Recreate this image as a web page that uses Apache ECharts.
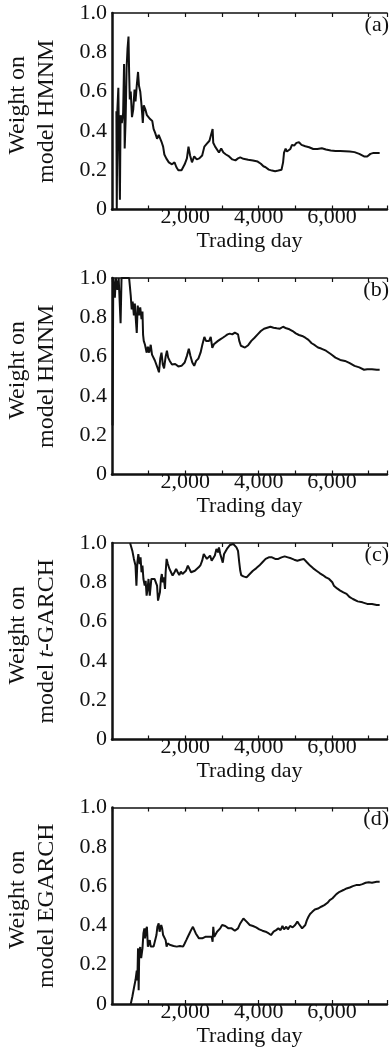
<!DOCTYPE html>
<html>
<head>
<meta charset="utf-8">
<script src="https://cdn.jsdelivr.net/npm/echarts@6/dist/echarts.min.js"></script>
<style>
  html, body { margin: 0; padding: 0; background: #fff; }
  #chart { width: 390px; height: 1058px; }
</style>
</head>
<body>
<div id="chart"></div>
<script>
// Weight series per panel: [trading day, weight]
const weightHmnmA = [
  [120,0.50],[130,0.00],[147,0.51],[173,0.62],[190,0.36],[216,0.05],[234,0.48],[268,0.44],[303,0.49],
  [329,0.74],[346,0.31],[372,0.46],[398,0.72],[424,0.82],[450,0.88],[467,0.70],[485,0.56],[511,0.60],
  [545,0.47],[580,0.51],[615,0.61],[641,0.55],[675,0.63],[710,0.70],[736,0.63],[771,0.60],[796,0.55],
  [822,0.49],[840,0.44],[866,0.53],[909,0.51],[952,0.48],[996,0.49],[1039,0.46],[1099,0.45],[1134,0.41],
  [1177,0.39],[1229,0.36],[1273,0.38],[1316,0.37],[1359,0.34],[1394,0.32],[1428,0.28],[1480,0.26],
  [1550,0.24],[1636,0.23],[1705,0.24],[1757,0.215],[1809,0.20],[1896,0.20],[1982,0.23],[2043,0.26],
  [2086,0.32],[2130,0.275],[2181,0.24],[2242,0.27],[2311,0.255],[2381,0.26],[2459,0.275],[2519,0.32],
  [2588,0.335],[2658,0.35],[2710,0.34],[2744,0.41],[2761,0.34],[2813,0.32],[2865,0.31],[2917,0.29],
  [2978,0.31],[3038,0.29],[3108,0.28],[3194,0.27],[3281,0.255],[3367,0.25],[3437,0.26],[3497,0.265],
  [3584,0.258],[3714,0.253],[3844,0.249],[3973,0.244],[4060,0.233],[4129,0.22],[4190,0.215],[4276,0.203],
  [4363,0.198],[4450,0.195],[4536,0.198],[4623,0.202],[4666,0.24],[4692,0.29],[4735,0.31],[4770,0.295],
  [4822,0.30],[4865,0.308],[4908,0.329],[4969,0.325],[5030,0.339],[5099,0.342],[5168,0.329],[5272,0.322],
  [5376,0.317],[5488,0.308],[5601,0.308],[5722,0.312],[5835,0.305],[5965,0.30],[6094,0.298],[6224,0.298],
  [6354,0.297],[6484,0.295],[6614,0.292],[6744,0.283],[6874,0.27],[6960,0.27],[7047,0.283],[7133,0.288],
  [7220,0.288],[7300,0.288]
];

const weightHmnmB = [
  [15,0.25],[35,1.0],[78,0.90],[104,1.0],[147,0.94],[182,1.0],[234,0.77],[260,1.0],[467,1.0],
  [511,0.91],[537,0.84],[563,0.88],[597,0.81],[623,0.87],[649,0.79],[675,0.72],[701,0.86],[736,0.81],
  [770,0.85],[805,0.79],[831,0.83],[848,0.71],[866,0.68],[900,0.66],[944,0.62],[978,0.65],[1013,0.62],
  [1056,0.66],[1091,0.61],[1134,0.62],[1169,0.58],[1203,0.59],[1247,0.54],[1281,0.52],[1316,0.59],
  [1350,0.62],[1385,0.56],[1420,0.54],[1463,0.60],[1498,0.63],[1532,0.595],[1575,0.578],[1636,0.56],
  [1723,0.562],[1809,0.55],[1896,0.553],[1982,0.57],[2043,0.604],[2095,0.64],[2138,0.604],[2190,0.57],
  [2242,0.553],[2294,0.578],[2355,0.59],[2415,0.62],[2467,0.663],[2519,0.70],[2563,0.68],[2606,0.69],
  [2649,0.68],[2692,0.70],[2735,0.645],[2779,0.663],[2831,0.671],[2891,0.68],[2952,0.688],[3021,0.696],
  [3090,0.705],[3151,0.713],[3212,0.717],[3281,0.713],[3350,0.722],[3402,0.73],[3437,0.713],[3471,0.68],
  [3515,0.655],[3541,0.651],[3627,0.646],[3714,0.658],[3800,0.68],[3887,0.696],[3973,0.713],[4060,0.73],
  [4147,0.742],[4233,0.747],[4320,0.752],[4406,0.747],[4493,0.744],[4579,0.742],[4666,0.752],[4709,0.759],
  [4753,0.744],[4839,0.739],[4926,0.73],[5012,0.718],[5099,0.71],[5185,0.705],[5272,0.696],[5358,0.685],
  [5445,0.668],[5532,0.658],[5618,0.646],[5705,0.641],[5835,0.63],[5965,0.613],[6094,0.595],[6224,0.583],
  [6354,0.578],[6484,0.567],[6614,0.553],[6744,0.545],[6874,0.533],[6960,0.536],[7090,0.536],[7220,0.533],
  [7300,0.533]
];

const weightTGarchC = [
  [493,1.0],[554,0.961],[597,0.919],[641,0.885],[666,0.783],[692,0.902],[718,0.944],[753,0.893],[779,0.927],
  [805,0.851],[831,0.885],[857,0.817],[892,0.783],[918,0.808],[944,0.732],[970,0.766],[996,0.817],[1030,0.732],
  [1073,0.817],[1117,0.82],[1160,0.817],[1203,0.825],[1229,0.783],[1255,0.707],[1281,0.698],[1307,0.749],
  [1333,0.817],[1359,0.842],[1385,0.80],[1411,0.825],[1446,0.766],[1463,0.851],[1489,0.919],[1524,0.893],
  [1567,0.868],[1610,0.851],[1653,0.834],[1705,0.851],[1749,0.868],[1792,0.851],[1835,0.837],[1878,0.854],
  [1922,0.842],[1965,0.851],[2017,0.859],[2069,0.885],[2112,0.868],[2156,0.851],[2207,0.842],[2259,0.859],
  [2311,0.868],[2363,0.876],[2415,0.888],[2459,0.91],[2502,0.944],[2545,0.936],[2588,0.919],[2632,0.927],
  [2675,0.936],[2718,0.91],[2762,0.919],[2805,0.936],[2848,0.97],[2891,0.953],[2917,0.978],[2952,0.944],
  [2987,0.953],[3021,0.90],[3056,0.944],[3090,0.953],[3134,0.97],[3177,0.978],[3220,0.99],[3264,1.0],
  [3307,0.995],[3350,0.986],[3394,0.978],[3437,0.96],[3471,0.90],[3497,0.86],[3523,0.837],[3584,0.83],
  [3670,0.825],[3757,0.842],[3844,0.859],[3930,0.871],[4017,0.885],[4103,0.902],[4190,0.919],[4276,0.927],
  [4363,0.927],[4450,0.919],[4536,0.919],[4623,0.927],[4709,0.932],[4796,0.927],[4882,0.922],[4969,0.915],
  [5055,0.91],[5142,0.915],[5229,0.919],[5315,0.902],[5402,0.885],[5488,0.871],[5575,0.859],[5662,0.847],
  [5748,0.837],[5835,0.825],[5921,0.817],[6008,0.80],[6051,0.783],[6138,0.769],[6224,0.758],[6311,0.749],
  [6397,0.741],[6484,0.724],[6570,0.715],[6700,0.703],[6830,0.698],[6960,0.69],[7090,0.69],[7220,0.685],
  [7300,0.685]
];

const weightEgarchD = [
  [511,0.0],[554,0.037],[597,0.08],[641,0.122],[675,0.17],[692,0.12],[710,0.283],[727,0.07],[744,0.275],
  [770,0.29],[796,0.233],[831,0.283],[857,0.36],[883,0.385],[900,0.334],[926,0.376],[952,0.393],[978,0.292],
  [1004,0.283],[1030,0.325],[1056,0.292],[1099,0.283],[1134,0.292],[1177,0.30],[1212,0.351],[1238,0.393],
  [1273,0.41],[1298,0.368],[1324,0.359],[1342,0.402],[1368,0.385],[1394,0.351],[1428,0.342],[1463,0.325],
  [1489,0.292],[1515,0.308],[1550,0.305],[1593,0.30],[1636,0.308],[1679,0.295],[1723,0.30],[1766,0.292],
  [1809,0.283],[1852,0.295],[1896,0.305],[1939,0.292],[1982,0.308],[2026,0.325],[2069,0.342],[2112,0.359],
  [2156,0.376],[2207,0.393],[2242,0.385],[2285,0.359],[2329,0.351],[2372,0.334],[2415,0.325],[2459,0.334],
  [2502,0.325],[2545,0.342],[2588,0.334],[2632,0.342],[2675,0.334],[2718,0.342],[2744,0.317],[2762,0.393],
  [2788,0.342],[2822,0.351],[2865,0.368],[2909,0.376],[2952,0.385],[3004,0.402],[3047,0.41],[3090,0.397],
  [3134,0.393],[3177,0.385],[3220,0.376],[3264,0.385],[3307,0.38],[3350,0.373],[3394,0.376],[3437,0.385],
  [3497,0.41],[3541,0.42],[3584,0.435],[3627,0.427],[3670,0.419],[3714,0.414],[3757,0.402],[3844,0.397],
  [3930,0.39],[4017,0.38],[4103,0.373],[4190,0.368],[4276,0.359],[4337,0.351],[4406,0.368],[4476,0.376],
  [4536,0.385],[4597,0.376],[4649,0.397],[4692,0.38],[4753,0.393],[4796,0.38],[4856,0.397],[4926,0.39],
  [4995,0.402],[5055,0.419],[5099,0.407],[5142,0.397],[5185,0.385],[5229,0.385],[5272,0.402],[5315,0.427],
  [5358,0.444],[5402,0.458],[5462,0.469],[5532,0.481],[5618,0.486],[5705,0.495],[5791,0.503],[5878,0.515],
  [5939,0.529],[6008,0.537],[6051,0.546],[6120,0.559],[6207,0.571],[6311,0.58],[6397,0.588],[6484,0.593],
  [6570,0.60],[6657,0.605],[6744,0.605],[6830,0.61],[6917,0.617],[7003,0.62],[7090,0.617],[7220,0.622],
  [7300,0.622]
];

const panelSeries = [weightHmnmA, weightHmnmB, weightTGarchC, weightEgarchD];
const panelTags = ['(a)', '(b)', '(c)', '(d)'];
const axisTitleLine1 = ['Weight on', 'Weight on', 'Weight on', 'Weight on'];
const axisTitleLine2 = ['{n|model HMNM}', '{n|model HMNM}', '{n|model }{i|t}{n|-GARCH}', '{n|model EGARCH}'];
const xTitle = 'Trading day';
const xMin = 0, xMax = 7500, xStep = 1000;
const yMin = 0, yMax = 1, yStep = 0.2;

const FONT = '"Liberation Serif", "Times New Roman", serif';
const INK = '#111';

const panelTop = [13, 278, 543, 807.5];
const panelHeight = 196.5;
const plotLeft = 112;
const plotRight = -11;   // frame continues past the page edge

function fmtDay(v) {
  if (v <= 0 || v % 2000 !== 0) return '';
  return String(v).replace(/\B(?=(\d{3})+(?!\d))/g, ',');
}
function fmtWeight(v) {
  if (v === 0) return '0';
  return v.toFixed(1);
}

const grids = [], xAxes = [], yAxes = [], series = [], graphics = [];

panelSeries.forEach((data, i) => {
  grids.push({ left: plotLeft, right: plotRight, top: panelTop[i], height: panelHeight });

  // bottom axis with labels
  xAxes.push({
    type: 'value', gridIndex: i, min: xMin, max: xMax, interval: xStep, position: 'bottom',
    axisLine: { show: true, onZero: false, lineStyle: { color: INK, width: 2.5 } },
    axisTick: { show: true, inside: true, length: 4, lineStyle: { color: INK, width: 1.2 } },
    axisLabel: { formatter: fmtDay, fontFamily: FONT, fontSize: 22, color: INK, margin: -3, showMinLabel: false },
    splitLine: { show: false },
    name: xTitle, nameLocation: 'middle', nameGap: 21,
    nameTextStyle: { fontFamily: FONT, fontSize: 22, color: INK }
  });
  // top frame edge with inward ticks
  xAxes.push({
    type: 'value', gridIndex: i, min: xMin, max: xMax, interval: xStep, position: 'top',
    axisLine: { show: true, onZero: false, lineStyle: { color: INK, width: 1.6 } },
    axisTick: { show: true, inside: true, length: 4, lineStyle: { color: INK, width: 1.2 } },
    axisLabel: { show: false }, splitLine: { show: false }
  });
  yAxes.push({
    type: 'value', gridIndex: i, min: yMin, max: yMax, interval: yStep,
    axisLine: { show: true, onZero: false, lineStyle: { color: INK, width: 2.5 } },
    axisTick: { show: false },
    axisLabel: { formatter: fmtWeight, fontFamily: FONT, fontSize: 22, color: INK, margin: 5 },
    splitLine: { show: false }
  });
  series.push({
    type: 'line', xAxisIndex: i * 2, yAxisIndex: i, data: data,
    showSymbol: false, symbol: 'none', animation: false,
    lineStyle: { color: INK, width: 2 }
  });

  const midY = panelTop[i] + panelHeight / 2;
  graphics.push({
    type: 'text', x: 18, y: midY - 6, rotation: Math.PI / 2,
    style: { text: axisTitleLine1[i], font: '24px ' + FONT, fill: INK, align: 'center', verticalAlign: 'middle' }
  });
  graphics.push({
    type: 'text', x: 47, y: midY, rotation: Math.PI / 2,
    style: {
      text: axisTitleLine2[i], fill: INK, align: 'center', verticalAlign: 'middle',
      rich: {
        n: { fontFamily: FONT, fontSize: 24, fill: INK },
        i: { fontFamily: FONT, fontSize: 24, fontStyle: 'italic', fill: INK }
      }
    }
  });
  graphics.push({
    type: 'text', x: 389, y: panelTop[i] + 12,
    style: { text: panelTags[i], font: '22px ' + FONT, fill: INK, align: 'right', verticalAlign: 'middle' }
  });
});

const chart = echarts.init(document.getElementById('chart'), null, { renderer: 'canvas' });
chart.setOption({
  animation: false,
  backgroundColor: '#fff',
  grid: grids, xAxis: xAxes, yAxis: yAxes, series: series, graphic: graphics
});
</script>
</body>
</html>
